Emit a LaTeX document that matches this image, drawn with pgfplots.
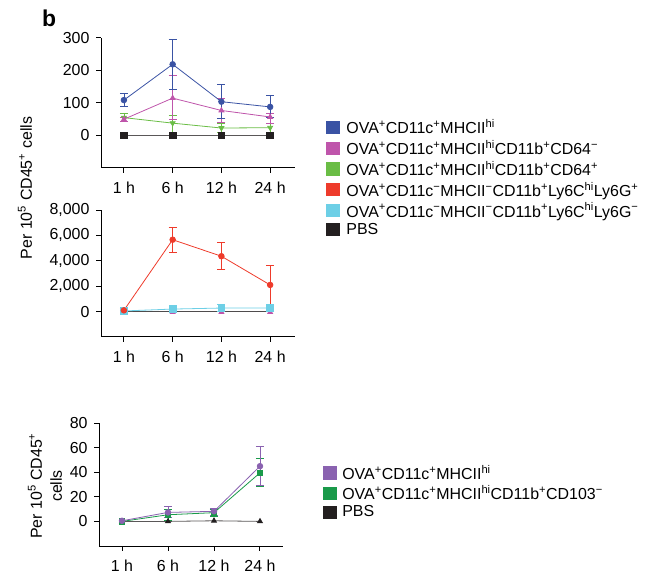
\documentclass[border=0pt]{standalone}
\usepackage{fontspec}
\setmainfont{Liberation Sans}
\usepackage{pgfplots}
\pgfplotsset{compat=1.18}

\definecolor{cBlue}{HTML}{3A53A4}
\definecolor{cPink}{HTML}{BF55AB}
\definecolor{cGreen}{HTML}{6ABD45}
\definecolor{cRed}{HTML}{EE3B2B}
\definecolor{cCyan}{HTML}{6DCFE6}
\definecolor{cBlack}{HTML}{231F20}
\definecolor{cPurple}{HTML}{8A62B0}
\definecolor{cDGreen}{HTML}{1A9A4A}

\newcommand{\su}[1]{\textsuperscript{#1}}

\pgfplotsset{
  panel/.style={
    scale only axis, clip=false,
    axis lines*=left,
    axis line style={line width=1bp, black},
    tick style={line width=1bp, black},
    tick align=outside, major tick length=5bp,
    xmin=-0.47, xmax=3.51,
    xtick={0,1,2,3}, xticklabels={1 h,6 h,12 h,24 h},
    tick label style={font=\fontsize{16}{19}\selectfont},
    xticklabel style={yshift=-5bp},
    yticklabel style={xshift=-3bp},
    /pgf/number format/assume math mode=true,
    scaled y ticks=false,
    /pgf/number format/1000 sep={,},
  },
  ser/.style={
    color=#1, line width=0.8bp, mark size=2.8bp,
    error bars/y dir=both, error bars/y explicit,
    error bars/error bar style={line width=0.8bp},
    error bars/error mark options={rotate=90, mark size=4bp, line width=0.8bp},
  },
}

\begin{document}
\begin{tikzpicture}
\useasboundingbox (0,0) rectangle (654bp,577bp);

\node[font=\fontsize{23}{25}\selectfont\bfseries] at (49bp,559bp) {b};
\node[rotate=90, font=\fontsize{16}{19}\selectfont] at (25bp,389bp)
  {Per 10\su{5} CD45\su{+} cells};
\node[rotate=90, align=center, font=\fontsize{16}{20}\selectfont] at (45bp,91bp)
  {Per 10\su{5} CD45\su{+}\\cells};

% top panel
\begin{axis}[panel,
  at={(101bp,409bp)}, anchor=south west, width=194bp, height=130bp,
  ymin=-100, ymax=300, ytick={0,100,200,300},
  legend image code/.code={\fill[#1, draw=none] (0bp,-6.6bp) rectangle (13.5bp,6.6bp); \path (18bp,0bp);},
  legend style={at={(1.16,0.39)}, anchor=north west, draw=none, fill=none,
    inner sep=0pt, row sep=1bp, font=\fontsize{16}{19}\selectfont},
  legend cell align=left]
\addplot[ser=cBlack!75, mark=square*, mark size=3.3bp, mark options={cBlack}, forget plot]
  coordinates {(0,0) (1,0) (2,0) (3,0)};
\addplot[ser=cGreen, mark=triangle*, mark options={rotate=180}, forget plot]
  coordinates {(0,55) += (0,12) -= (0,11) (1,38) += (0,24) -= (0,28)
               (2,23) += (0,15) -= (0,15) (3,24) += (0,12) -= (0,14)};
\addplot[ser=cPink, mark=triangle*, forget plot]
  coordinates {(0,50) += (0,7) -= (0,6) (1,115) += (0,70) -= (0,66)
               (2,77) += (0,37) -= (0,37) (3,57) += (0,12) -= (0,21)};
\addplot[ser=cBlue, mark=*, forget plot]
  coordinates {(0,109) += (0,22) -= (0,21) (1,219) += (0,76) -= (0,77)
               (2,104) += (0,52) -= (0,52) (3,88) += (0,35) -= (0,33)};
\addlegendimage{fill=cBlue}
\addlegendentry{OVA\su{+}CD11c\su{+}MHCII\su{hi}}
\addlegendimage{fill=cPink}
\addlegendentry{OVA\su{+}CD11c\su{+}MHCII\su{hi}CD11b\su{+}CD64\su{−}}
\addlegendimage{fill=cGreen}
\addlegendentry{OVA\su{+}CD11c\su{+}MHCII\su{hi}CD11b\su{+}CD64\su{+}}
\addlegendimage{fill=cRed}
\addlegendentry{OVA\su{+}CD11c\su{−}MHCII\su{−}CD11b\su{+}Ly6C\su{hi}Ly6G\su{+}}
\addlegendimage{fill=cCyan}
\addlegendentry{OVA\su{+}CD11c\su{−}MHCII\su{−}CD11b\su{+}Ly6C\su{hi}Ly6G\su{−}}
\addlegendimage{fill=cBlack}
\addlegendentry{PBS}
\end{axis}

% middle panel
\begin{axis}[panel,
  at={(101bp,240bp)}, anchor=south west, width=194bp, height=127bp,
  ymin=-2000, ymax=8000, ytick={0,2000,4000,6000,8000}]
\addplot[ser=cBlack!80, mark=none]
  coordinates {(0,0) (1,0) (2,0) (3,0)};
\addplot[ser=cPink, mark=triangle*, only marks]
  coordinates {(0,-40) (1,-40) (2,-40) (3,-40)};
\addplot[ser=cCyan, mark=square*, mark size=3.3bp]
  coordinates {(0,50) += (0,40) -= (0,40) (1,200) += (0,80) -= (0,80)
               (2,280) += (0,320) -= (0,230) (3,280) += (0,200) -= (0,250)};
\addplot[ser=cRed, mark=*]
  coordinates {(0,100) += (0,150) -= (0,100) (1,5660) += (0,950) -= (0,960)
               (2,4360) += (0,1090) -= (0,1040) (3,2100) += (0,1560) -= (0,1580)};
\end{axis}

% bottom panel
\begin{axis}[panel,
  at={(99bp,31bp)}, anchor=south west, width=184bp, height=123bp,
  xmin=-0.5, xmax=3.5,
  ymin=-20, ymax=80, ytick={0,20,40,60,80},
  legend image code/.code={\fill[#1, draw=none] (0bp,-6.6bp) rectangle (13.5bp,6.6bp); \path (17bp,0bp);},
  legend style={at={(1.217,0.675)}, anchor=north west, draw=none, fill=none,
    inner sep=0pt, row sep=0.5bp, font=\fontsize{16}{19}\selectfont},
  legend cell align=left]
\addplot[ser=cBlack!75, mark=triangle*, mark options={cBlack}, forget plot]
  coordinates {(0,0) (1,0) (2,0.5) (3,0)};
\addplot[ser=cDGreen, mark=square*, mark size=2.6bp, forget plot]
  coordinates {(0,0) (1,5.4) += (0,4.6) -= (0,4.9)
               (2,7.1) += (0,2.7) -= (0,2.7) (3,39.5) += (0,11.9) -= (0,11.2)};
\addplot[ser=cPurple, mark=*, forget plot]
  coordinates {(0,0.5) (1,7.3) += (0,4.7) -= (0,4)
               (2,8.2) += (0,2.7) -= (0,3.3) (3,44.9) += (0,16.1) -= (0,15.9)};
\addlegendimage{fill=cPurple}
\addlegendentry{OVA\su{+}CD11c\su{+}MHCII\su{hi}}
\addlegendimage{fill=cDGreen}
\addlegendentry{OVA\su{+}CD11c\su{+}MHCII\su{hi}CD11b\su{+}CD103\su{−}}
\addlegendimage{fill=cBlack}
\addlegendentry{PBS}
\end{axis}
\end{tikzpicture}
\end{document}
